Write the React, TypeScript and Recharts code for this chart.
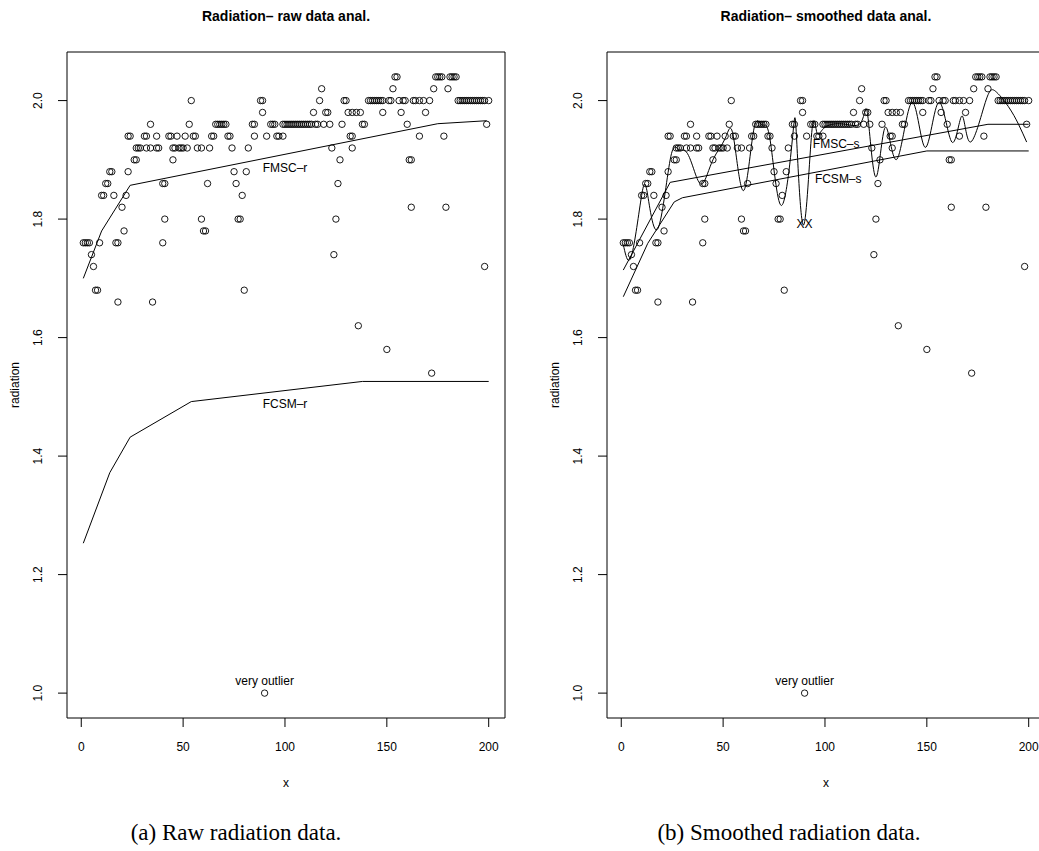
import {ComposedChart, Line, ReferenceArea, Scatter, XAxis, YAxis} from 'recharts';

// observations, grouped by radiation level: x positions at each level
const at204 = [154, 155, 174, 175, 176, 177, 181, 182, 183, 184];
const at202 = [118, 153, 173, 180];
const at200 = [54, 88, 89, 117, 129, 130, 141, 142, 143, 144, 145, 146, 147, 148, 151, 152, 156, 158, 159, 163, 164, 166, 168, 171,
    185, 186, 187, 188, 189, 190, 191, 192, 193, 194, 195, 196, 197, 198, 200];
const at198 = [89, 114, 120, 121, 131, 133, 135, 137, 148, 157, 169];
const at196 = [34, 53, 66, 67, 68, 69, 70, 71, 84, 85, 93, 94, 95, 99, 100, 101, 102, 103, 104, 105, 106, 107, 108, 109, 110, 111,
    112, 113, 115, 116, 119, 122, 128, 138, 139, 160, 199];
const at194 = [23, 24, 31, 32, 37, 43, 44, 47, 51, 55, 56, 64, 65, 72, 73, 85, 91, 96, 97, 99, 132, 133, 166, 178];
const at192 = [27, 28, 29, 32, 34, 37, 38, 45, 46, 48, 49, 50, 52, 57, 59, 63, 74, 82, 123, 133];
const at190 = [26, 27, 45, 127, 161, 162];
const at188 = [14, 15, 23, 75, 81];
const at186 = [12, 13, 40, 41, 62, 76, 126];
const at184 = [10, 11, 16, 22, 79];
const at182 = [20, 162, 179];
const at180 = [41, 59, 77, 78, 125];
const at178 = [21, 60, 61];
const at176 = [1, 2, 3, 4, 9, 17, 18, 40];
const at174 = [5, 124];
const at172 = [6, 198];
const at168 = [7, 8, 80];
const at166 = [18, 35];
const at162 = [136];
const at158 = [150];
const at154 = [172];
const at100 = [90];

const LEVELS: [number, number[]][] = [
    [2.04, at204], [2.02, at202], [2.0, at200], [1.98, at198], [1.96, at196], [1.94, at194], [1.92, at192],
    [1.9, at190], [1.88, at188], [1.86, at186], [1.84, at184], [1.82, at182], [1.8, at180], [1.78, at178],
    [1.76, at176], [1.74, at174], [1.72, at172], [1.68, at168], [1.66, at166], [1.62, at162], [1.58, at158],
    [1.54, at154], [1.0, at100],
];

// fitted curves
const FMSC_R_X = [1, 10, 24, 175, 199];
const FMSC_R_Y = [1.70, 1.78, 1.857, 1.961, 1.966];
const FCSM_R_X = [1, 14, 24, 54, 138, 200];
const FCSM_R_Y = [1.253, 1.372, 1.432, 1.492, 1.526, 1.526];
const FMSC_S_X = [1, 24, 180, 200];
const FMSC_S_Y = [1.714, 1.862, 1.960, 1.960];
const FCSM_S_X = [1, 13, 26, 30, 150, 200];
const FCSM_S_Y = [1.669, 1.759, 1.829, 1.836, 1.915, 1.915];
const SMOOTH_X = [1, 5, 10, 13, 18, 24, 28, 32, 36, 40, 45, 51, 55, 60, 65, 69, 73, 78.5, 84, 86, 89.5, 93.5, 96, 100, 110, 118,
    121, 125, 129.6, 135.3, 142.7, 149.2, 155.8, 162.3, 167.2, 171.3, 178.7, 183.6, 190, 195, 199];
const SMOOTH_Y = [1.757, 1.738, 1.84, 1.84, 1.784, 1.90, 1.918, 1.913, 1.88, 1.86, 1.90, 1.936, 1.94, 1.848, 1.95, 1.959, 1.935,
    1.823, 1.935, 1.94, 1.79, 1.946, 1.946, 1.955, 1.96, 1.965, 1.975, 1.871, 1.955, 1.901, 1.997, 1.921, 1.997, 1.93, 1.974,
    1.93, 1.997, 2.016, 1.99, 1.96, 1.93];

const TICKS_X = [0, 50, 100, 150, 200];
const TICKS_Y = [1.0, 1.2, 1.4, 1.6, 1.8, 2.0];

const FONT = '"Liberation Sans", Arial, Helvetica, sans-serif';

const zip = (xs: number[], ys: number[]) => xs.map((x, i) => ({x, y: ys[i]}));
const points = LEVELS.flatMap(([y, xs]) => xs.map((x) => ({x, y})));

const Circle = (props: any) => (
    <circle cx={props.cx} cy={props.cy} r={3.2} fill="none" stroke="#000" strokeWidth={0.9}/>
);

const Note = (props: any) => (
    <text x={props.cx} y={props.cy} textAnchor="middle" dominantBaseline="central" fontSize={12} fontFamily={FONT}
          fill="#000">{props.payload.text}</text>
);

const XTick = ({x, payload}: any) => (
    <text x={x} y={751} textAnchor="middle" fontSize={12} fontFamily={FONT} fill="#000">{payload.value}</text>
);

const YTick = ({y, payload}: any) => (
    <text x={42} y={y} transform={`rotate(-90, 42, ${y})`} textAnchor="middle" fontSize={12} fontFamily={FONT}
          fill="#000">{Number(payload.value).toFixed(1)}</text>
);

interface PanelProps {
    readonly lines: { x: number; y: number }[][];
    readonly smooth?: { x: number; y: number }[];
    readonly notes: { x: number; y: number; text: string }[];
}

function Panel({lines, smooth, notes}: PanelProps) {
    return (
        <ComposedChart width={545} height={851} margin={{top: 52, right: 40, bottom: 73, left: 0}}>
            <XAxis type="number" dataKey="x" domain={[-7, 208]} ticks={TICKS_X} allowDataOverflow height={60}
                   axisLine={false} tickSize={9} tickLine={{stroke: '#000'}} tick={<XTick/>}/>
            <YAxis type="number" dataKey="y" domain={[0.958, 2.082]} ticks={TICKS_Y} allowDataOverflow width={67}
                   axisLine={false} tickSize={9} tickLine={{stroke: '#000'}} tick={<YTick/>}/>
            <ReferenceArea x1={-7} x2={208} y1={0.958} y2={2.082} fill="none" stroke="#000" strokeWidth={1}
                           fillOpacity={0} strokeOpacity={1}/>
            {lines.map((d, i) => (
                <Line key={i} data={d} dataKey="y" type="linear" stroke="#000" strokeWidth={1} dot={false}
                      isAnimationActive={false}/>
            ))}
            {smooth && (
                <Line data={smooth} dataKey="y" type="natural" stroke="#000" strokeWidth={1} dot={false}
                      isAnimationActive={false}/>
            )}
            <Scatter data={points} shape={<Circle/>} isAnimationActive={false}/>
            <Scatter data={notes} shape={<Note/>} isAnimationActive={false}/>
        </ComposedChart>
    );
}

const textStyle = {fontFamily: FONT, fill: '#000'};

export default function App() {
    return (
        <div style={{position: 'fixed', left: 0, top: 0, width: 1039, height: 851, overflow: 'hidden', background: '#fff'}}>
            <div style={{position: 'absolute', left: 0, top: 0}}>
                <Panel
                    lines={[zip(FMSC_R_X, FMSC_R_Y), zip(FCSM_R_X, FCSM_R_Y)]}
                    notes={[
                        {x: 100, y: 1.887, text: 'FMSC–r'},
                        {x: 100, y: 1.488, text: 'FCSM–r'},
                        {x: 90, y: 1.02, text: 'very outlier'},
                    ]}
                />
            </div>
            <div style={{position: 'absolute', left: 540, top: 0}}>
                <Panel
                    lines={[zip(FMSC_S_X, FMSC_S_Y), zip(FCSM_S_X, FCSM_S_Y)]}
                    smooth={zip(SMOOTH_X, SMOOTH_Y)}
                    notes={[
                        {x: 105.5, y: 1.927, text: 'FMSC–s'},
                        {x: 106.5, y: 1.867, text: 'FCSM–s'},
                        {x: 90, y: 1.791, text: 'XX'},
                        {x: 90, y: 1.02, text: 'very outlier'},
                    ]}
                />
            </div>
            <svg width={1039} height={851} style={{position: 'absolute', left: 0, top: 0, pointerEvents: 'none'}}>
                <text x={286} y={21} textAnchor="middle" fontSize={14} fontWeight="bold" style={textStyle}>Radiation– raw data anal.</text>
                <text x={826} y={21} textAnchor="middle" fontSize={14} fontWeight="bold" style={textStyle}>Radiation– smoothed data anal.</text>
                <text x={19} y={385} transform="rotate(-90, 19, 385)" textAnchor="middle" fontSize={12} style={textStyle}>radiation</text>
                <text x={559} y={385} transform="rotate(-90, 559, 385)" textAnchor="middle" fontSize={12} style={textStyle}>radiation</text>
                <text x={286} y={787} textAnchor="middle" fontSize={12} style={textStyle}>x</text>
                <text x={826} y={787} textAnchor="middle" fontSize={12} style={textStyle}>x</text>
                <text x={236} y={840} textAnchor="middle" fontSize={23} fontFamily='"Liberation Serif", "Times New Roman", serif'>(a) Raw radiation data.</text>
                <text x={789} y={840} textAnchor="middle" fontSize={23} fontFamily='"Liberation Serif", "Times New Roman", serif'>(b) Smoothed radiation data.</text>
            </svg>
        </div>
    );
}
